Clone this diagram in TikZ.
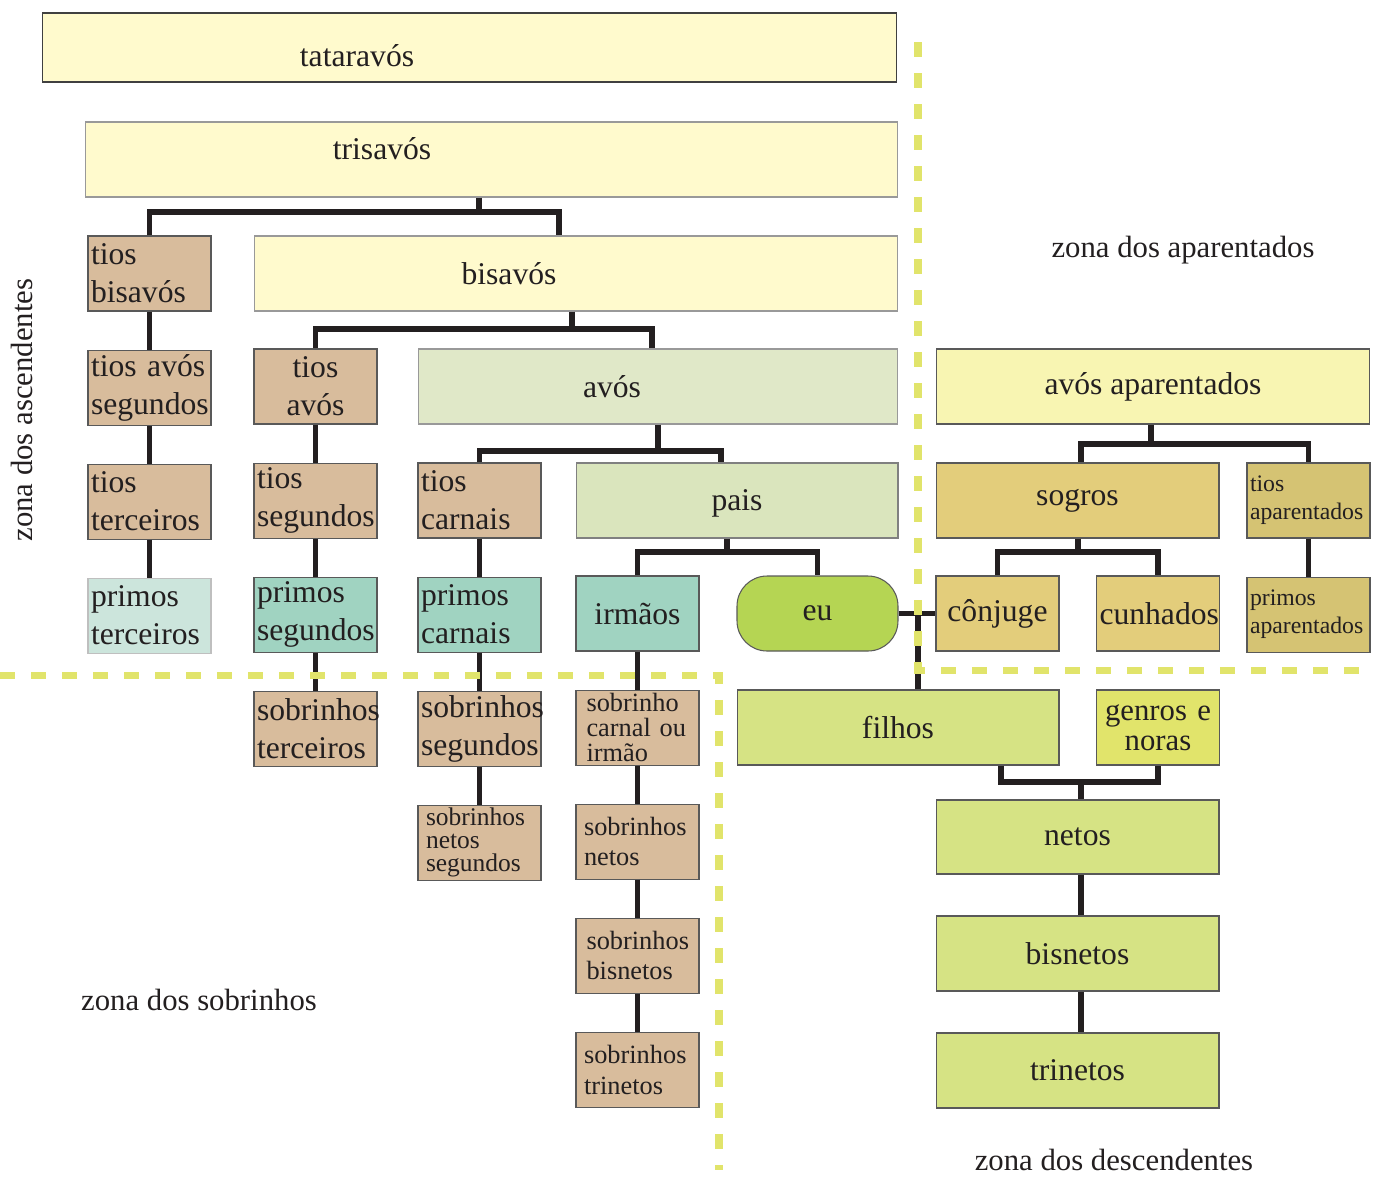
\documentclass[tikz,border=0pt]{standalone}
\usepackage{fontspec}
\setmainfont{Liberation Serif}
\usepackage{tikz}
\usetikzlibrary{positioning,calc}
\definecolor{creme}{HTML}{FFFACD}
\definecolor{avosapyellow}{HTML}{F8F5B2}
\definecolor{tanbox}{HTML}{D8BC9C}
\definecolor{avosgreen}{HTML}{E0E8C8}
\definecolor{paisgreen}{HTML}{DAE5BD}
\definecolor{tealbox}{HTML}{A0D3C1}
\definecolor{paletealbox}{HTML}{CCE5DC}
\definecolor{eugreen}{HTML}{B5D553}
\definecolor{filhosgreen}{HTML}{D6E384}
\definecolor{genrosyellow}{HTML}{E1E46B}
\definecolor{sogrosgold}{HTML}{E3CD7B}
\definecolor{tiosapgold}{HTML}{D5C373}
\definecolor{linecol}{HTML}{231F20}
\definecolor{zonecol}{HTML}{E1E46B}
\tikzset{
	box/.style={rectangle, draw=black!65, line width=0.6pt, minimum height=1.5cm, inner xsep=0.06cm, inner ysep=0pt, text=linecol, font=\fontsize{18}{21.6}\selectfont}, % every kin box
	kin/.style={box, minimum width=2.46cm, text width=2.34cm, align=left}, % the narrow boxes
	wide/.style={box, minimum width=#1}, % the long boxes
	small/.style={font=\fontsize{15}{17.5}\selectfont}, % smaller text in the sobrinhos boxes
	tiny/.style={font=\fontsize{13.5}{16}\selectfont}, % aparentados text
	link/.style={draw=linecol, line width=3.2pt}, % the family lines
	zone/.style={draw=zonecol, line width=4pt, dash pattern=on 0.3cm off 0.32cm}, % zone borders
	zonelabel/.style={text=linecol, font=\fontsize{17.5}{21}\selectfont},
}

\begin{document}
\begin{tikzpicture}[x=0.02cm, y=-0.02cm, node distance=0.76cm]
	\useasboundingbox (0,0) rectangle (1377,1178);

	% ascendentes
	\node[wide=17.1cm, minimum height=1.38cm, fill=creme, draw=black!75, text height=0.74cm, text depth=0cm] (tatara) at (469.5,47.5) {tataravós\hspace*{4.5cm}};
	\node[wide=16.26cm, fill=creme, draw=black!40, text height=0.3cm, text depth=0.3cm] (trisa) at (491.5,159.5) {trisavós\hspace*{4.38cm}};
	\node[kin, fill=tanbox] (tiosbis) at (149.5,273.5) {tios\\bisavós};
	\node[wide=12.88cm, fill=creme, draw=black!40] (bisa) at (576,273.5) {bisavós\hspace*{2.68cm}};
	\node[kin, fill=tanbox, below=of tiosbis] (tiosavseg) {tios avós\\segundos};
	\node[kin, fill=tanbox, align=center] (tiosavos) at (315.5,386.5) {tios\\avós};
	\node[wide=9.6cm, fill=avosgreen, draw=black!40] (avos) at (658,386.5) {avós\hspace*{1.84cm}};
	\node[kin, fill=tanbox, below=of tiosavseg] (tiosterc) {tios\\terceiros};
	\node[kin, fill=tanbox, below=of tiosavos, align=left] (tiosseg) {tios\\segundos};
	\node[kin, fill=tanbox] (tioscarn) at (479.5,500.5) {tios\\carnais};
	\node[wide=6.44cm, fill=paisgreen, draw=black!50, text height=0.45cm, text depth=0.07cm] (pais) at (737,500.5) {pais};
	\node[kin, fill=paletealbox, draw=black!25, below=of tiosterc] (primterc) {primos\\terceiros};
	\node[kin, fill=tealbox, below=of tiosseg] (primseg) {primos\\segundos};
	\node[kin, fill=tealbox, below=of tioscarn] (primcarn) {primos\\carnais};
	\node[kin, fill=tealbox, align=center] (irmaos) at (637.5,613.5) {irmãos};
	\node[wide=3.22cm, fill=eugreen, rounded corners=0.6cm] (eu) at (817.5,613.5) {eu};

	% sobrinhos
	\node[kin, fill=tanbox, below=of primseg] (sobterc) {sobrinhos\\terceiros};
	\node[kin, fill=tanbox, below=of primcarn] (sobseg) {sobrinhos\\segundos};
	\node[kin, fill=tanbox, below=of irmaos, align=left, font=\fontsize{15}{14}\selectfont] (sobcarn) {\hspace*{0.15cm}sobrinho\\\hspace*{0.15cm}carnal ou\\\hspace*{0.15cm}irmão};
	\node[kin, fill=tanbox, below=of sobseg, font=\fontsize{14.5}{13.2}\selectfont] (sobnetseg) {\hspace*{0.1cm}sobrinhos\\\hspace*{0.1cm}netos\\\hspace*{0.1cm}segundos};
	\node[kin, small, fill=tanbox, below=of sobcarn] (sobnet) {\hspace*{0.1cm}sobrinhos\\\hspace*{0.1cm}netos};
	\node[kin, small, fill=tanbox, below=of sobnet] (sobbis) {\hspace*{0.15cm}sobrinhos\\\hspace*{0.15cm}bisnetos};
	\node[kin, small, fill=tanbox, below=of sobbis] (sobtri) {\hspace*{0.1cm}sobrinhos\\\hspace*{0.1cm}trinetos};

	% aparentados
	\node[wide=8.68cm, fill=avosapyellow] (avosap) at (1153,386.5) {avós aparentados};
	\node[wide=5.66cm, fill=sogrosgold] (sogros) at (1077.5,500.5) {sogros};
	\node[kin, tiny, fill=tiosapgold] (tiosap) at (1308.5,500.5) {tios\\aparentados};
	\node[kin, fill=sogrosgold, align=center] (conjuge) at (997.5,613.5) {cônjuge};
	\node[kin, fill=sogrosgold, align=center] (cunhados) at (1158,613.5) {cunhados};
	\node[kin, tiny, fill=tiosapgold, below=of tiosap] (primap) {primos\\aparentados};

	% descendentes
	\node[wide=6.44cm, fill=filhosgreen] (filhos) at (898,727.5) {filhos};
	\node[kin, fill=genrosyellow, align=center, font=\fontsize{17.5}{17}\selectfont] (genros) at (1158,727.5) {genros e\\noras};
	\node[wide=5.66cm, minimum height=1.48cm, fill=filhosgreen] (netos) at (1077.5,837) {netos};
	\node[wide=5.66cm, fill=filhosgreen] (bisnetos) at (1077.5,953.5) {bisnetos};
	\node[wide=5.66cm, fill=filhosgreen] (trinetos) at (1077.5,1070.5) {trinetos};

	% zone names
	\node[zonelabel] (zapar) at (1183,250) {zona dos aparentados};
	\node[zonelabel, rotate=90] (zasc) at (22,410) {zona dos ascendentes};
	\node[zonelabel] (zsob) at (199,1000) {zona dos sobrinhos};
	\node[zonelabel] (zdesc) at (1114,1160) {zona dos descendentes};

	% lines of descent
	\draw[link] (trisa.south -| 479,0) -- (479,212);
	\draw[link] (tiosbis.north) |- (559,212) -- (bisa.north -| 559,0);
	\draw[link] (bisa.south -| 572,0) -- (572,329);
	\draw[link] (tiosavos.north) |- (652,329) -- (avos.north -| 652,0);
	\draw[link] (avos.south) -- (658,451);
	\draw[link] (tioscarn.north) |- (721,451) -- (pais.north -| 721,0);
	\draw[link] (pais.south -| 727,0) -- (727,552);
	\draw[link] (irmaos.north) |- (eu.north |- 0,552) -- (eu.north);

	\draw[link] (tiosbis.south) -- (tiosavseg.north) (tiosavseg.south) -- (tiosterc.north) (tiosterc.south) -- (primterc.north);
	\draw[link] (tiosavos.south) -- (tiosseg.north) (tiosseg.south) -- (primseg.north) (primseg.south) -- (sobterc.north);
	\draw[link] (tioscarn.south) -- (primcarn.north) (primcarn.south) -- (sobseg.north) (sobseg.south) -- (sobnetseg.north);
	\draw[link] (irmaos.south) -- (sobcarn.north) (sobcarn.south) -- (sobnet.north) (sobnet.south) -- (sobbis.north) (sobbis.south) -- (sobtri.north);

	\draw[link] (eu.east) -- (conjuge.west);
	\draw[link] (eu.east -| 918,0) -- (filhos.north -| 918,0);

	\draw[link] (avosap.south -| 1151,0) -- (1151,444);
	\draw[link] (sogros.north -| 1081,0) |- (tiosap.north |- 0,444) -- (tiosap.north);
	\draw[link] (sogros.south -| 1078,0) -- (1078,552);
	\draw[link] (conjuge.north) |- (cunhados.north |- 0,552) -- (cunhados.north);
	\draw[link] (tiosap.south) -- (primap.north);

	\draw[link] (filhos.south -| 1001,0) |- (genros.south |- 0,782) -- (genros.south);
	\draw[link] (1081,782) -- (netos.north -| 1081,0);
	\draw[link] (netos.south -| 1081,0) -- (bisnetos.north -| 1081,0) (bisnetos.south -| 1081,0) -- (trinetos.north -| 1081,0);

	% zone borders
	\draw[zone] (918,42) -- (918,670) -- (1370,670);
	\draw[zone] (0,675) -- (719,675) -- (719,1170);
\end{tikzpicture}
\end{document}
